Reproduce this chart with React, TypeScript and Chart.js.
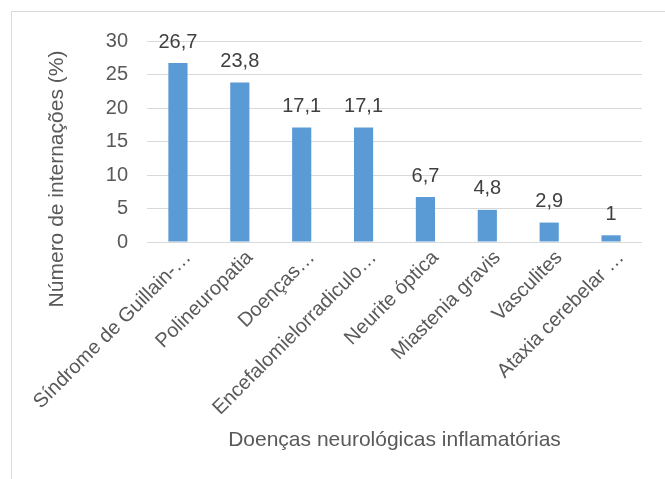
import React, { useEffect, useRef } from "react";
import { Chart, registerables } from "chart.js";

Chart.register(...registerables);

const categories = [
  "Síndrome de Guillain-…",
  "Polineuropatia",
  "Doenças…",
  "Encefalomielorradiculo…",
  "Neurite óptica",
  "Miastenia gravis",
  "Vasculites",
  "Ataxia cerebelar …",
];
const values = [26.7, 23.8, 17.1, 17.1, 6.7, 4.8, 2.9, 1];
const yTicks = [0, 5, 10, 15, 20, 25, 30];
const xTitle = "Doenças neurológicas inflamatórias";
const yTitle = "Número de internações (%)";

const FONT = "'Liberation Sans', Arial, sans-serif";
const GREY = "#595959";

export default function App() {
  const ref = useRef<HTMLCanvasElement | null>(null);

  useEffect(() => {
    if (!ref.current) return;

    const framePlugin = {
      id: "frame",
      beforeDraw(chart: any) {
        const ctx = chart.ctx;
        ctx.save();
        ctx.fillStyle = "#ffffff";
        ctx.fillRect(0, 0, chart.width, chart.height);
        ctx.strokeStyle = "#d9d9d9";
        ctx.lineWidth = 1;
        ctx.strokeRect(11.5, 11.5, chart.width + 50, chart.height + 50);
        ctx.restore();
      },
    };

    const labelPlugin = {
      id: "valueLabels",
      afterDatasetsDraw(chart: any) {
        const ctx = chart.ctx;
        const meta = chart.getDatasetMeta(0);
        ctx.save();
        ctx.font = `20px ${FONT}`;
        ctx.fillStyle = "#404040";
        ctx.textAlign = "center";
        ctx.textBaseline = "alphabetic";
        meta.data.forEach((el: any, i: number) => {
          const txt = String(values[i]).replace(".", ",");
          ctx.fillText(txt, el.x, el.y - 15.5);
        });
        ctx.restore();
      },
    };

    const yTitlePlugin = {
      id: "yTitle",
      afterDraw(chart: any) {
        const ctx = chart.ctx;
        const area = chart.chartArea;
        ctx.save();
        ctx.font = `21px ${FONT}`;
        ctx.fillStyle = GREY;
        ctx.textAlign = "center";
        ctx.textBaseline = "middle";
        const cx = area.left - 90;
        const cy = (area.top + chart.height) / 2 - 81;
        ctx.translate(cx, cy);
        ctx.rotate(-Math.PI / 2);
        ctx.fillText(yTitle, 0, 0);
        ctx.restore();
      },
    };

    const chart = new Chart(ref.current, {
      type: "bar",
      data: {
        labels: categories,
        datasets: [
          {
            data: values,
            backgroundColor: "#5b9bd5",
            borderWidth: 0,
            barPercentage: 0.31,
            categoryPercentage: 1,
          },
        ],
      },
      options: {
        responsive: false,
        animation: false,
        devicePixelRatio: 1,
        layout: { padding: { top: 41, left: 0, right: 23, bottom: 0 } },
        plugins: {
          legend: { display: false },
          tooltip: { enabled: false },
        },
        scales: {
          x: {
            grid: { display: false, drawTicks: false },
            border: { display: false },
            afterFit(scale: any) {
              scale.height = 237;
            },
            ticks: {
              autoSkip: false,
              minRotation: 45,
              maxRotation: 45,
              padding: 4,
              labelOffset: 10,
              color: GREY,
              font: { family: FONT, size: 20 },
            },
            title: {
              display: true,
              text: xTitle,
              color: GREY,
              font: { family: FONT, size: 21 },
              padding: { top: 0, bottom: 26 },
            },
          },
          y: {
            min: 0,
            max: 30,
            afterFit(scale: any) {
              scale.width = 147;
            },
            afterBuildTicks(scale: any) {
              scale.ticks = yTicks.map((v) => ({ value: v }));
            },
            grid: { color: "#d9d9d9", lineWidth: 1, drawTicks: false },
            border: { display: false },
            ticks: {
              padding: 19,
              color: GREY,
              font: { family: FONT, size: 20 },
            },
          },
        },
      },
      plugins: [framePlugin, labelPlugin, yTitlePlugin],
    });

    return () => chart.destroy();
  }, []);

  return (
    <div style={{ position: "fixed", left: 0, top: 0, width: 665, height: 479 }}>
      <canvas ref={ref} width={665} height={479} style={{ display: "block" }} />
    </div>
  );
}
